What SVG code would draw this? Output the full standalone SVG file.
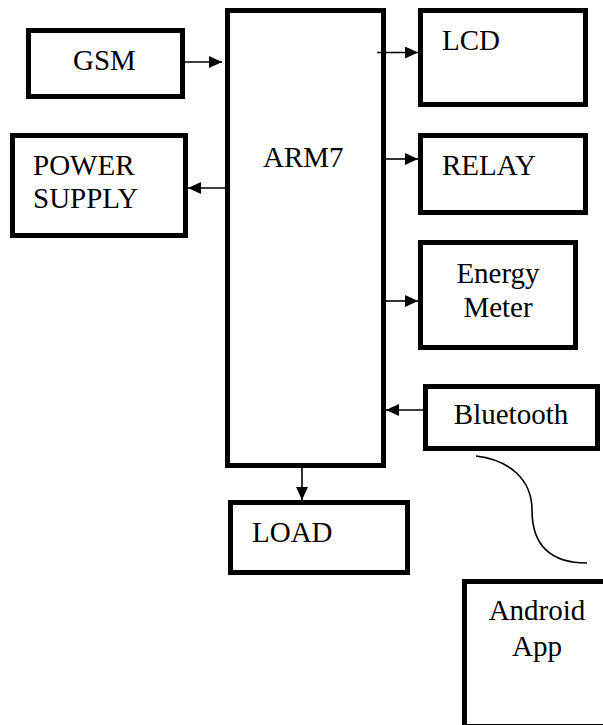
<svg xmlns="http://www.w3.org/2000/svg" width="603" height="725" viewBox="0 0 603 725">
<style>
.box{fill:#fff;stroke:#000;stroke-width:5}
.lbl{font-family:"Liberation Serif","Times New Roman",serif;font-size:29px;fill:#000}
.c{text-anchor:middle}
.ln{stroke:#000;stroke-width:1.6;fill:none}
</style>
<defs>
<marker id="ah" markerUnits="userSpaceOnUse" markerWidth="14" markerHeight="14" refX="13" refY="6" orient="auto">
<path d="M0,0 L13,6 L0,12 Z" fill="#000"/>
</marker>
</defs>
<rect width="603" height="725" fill="#fff"/>
<g id="arm7"><rect class="box" x="227.5" y="10.5" width="156" height="455"/><text class="lbl" x="263" y="167">ARM7</text></g>
<g id="gsm"><rect class="box" x="28.5" y="30.5" width="154" height="66"/><text class="lbl" x="73" y="70">GSM</text></g>
<g id="power"><rect class="box" x="12.5" y="135.5" width="173" height="100"/><text class="lbl" x="33" y="175">POWER</text><text class="lbl" x="33" y="208">SUPPLY</text></g>
<g id="lcd"><rect class="box" x="420.5" y="10.5" width="165" height="94"/><text class="lbl" x="442" y="50">LCD</text></g>
<g id="relay"><rect class="box" x="420.5" y="135.5" width="165" height="77"/><text class="lbl" x="442" y="175">RELAY</text></g>
<g id="energy"><rect class="box" x="420.5" y="242.5" width="155" height="105"/><text class="lbl c" x="498" y="283">Energy</text><text class="lbl c" x="498" y="317">Meter</text></g>
<g id="bluetooth"><rect class="box" x="425.5" y="386.5" width="172" height="62"/><text class="lbl c" x="511" y="424">Bluetooth</text></g>
<g id="load"><rect class="box" x="230.5" y="502.5" width="177" height="70"/><text class="lbl" x="252" y="542">LOAD</text></g>
<g id="android"><rect class="box" x="464.5" y="581.5" width="200" height="145"/><text class="lbl c" x="537" y="620">Android</text><text class="lbl c" x="537" y="656">App</text></g>
<g id="connectors">
<line class="ln" x1="185" y1="62" x2="222" y2="62" marker-end="url(#ah)"/>
<line class="ln" x1="225" y1="188" x2="188" y2="188" marker-end="url(#ah)"/>
<line class="ln" x1="377" y1="52.5" x2="418" y2="52.5" marker-end="url(#ah)"/>
<line class="ln" x1="386" y1="159" x2="418" y2="159" marker-end="url(#ah)"/>
<line class="ln" x1="386" y1="301" x2="418" y2="301" marker-end="url(#ah)"/>
<line class="ln" x1="423" y1="410" x2="386" y2="410" marker-end="url(#ah)"/>
<line class="ln" x1="302" y1="468" x2="302" y2="500" marker-end="url(#ah)"/>
<path class="ln" d="M476,456 C510,460 532,480 532,510 C532,545 550,563 587,563"/>
</g>
</svg>
